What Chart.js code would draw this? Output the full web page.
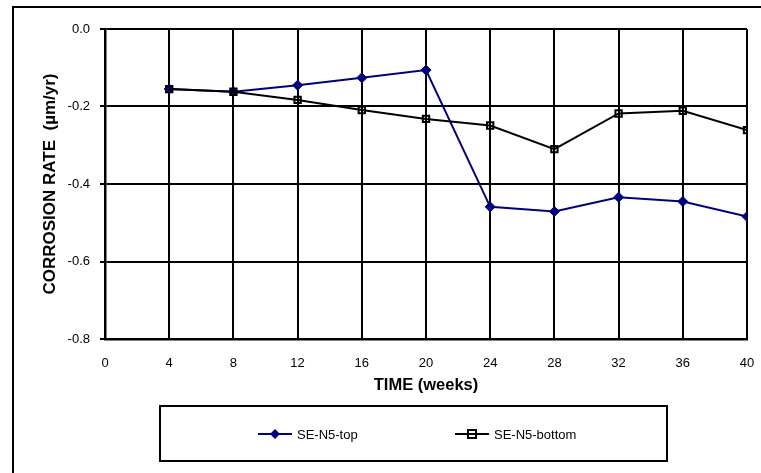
<!DOCTYPE html>
<html>
<head>
<meta charset="utf-8">
<script src="https://cdn.jsdelivr.net/npm/chart.js@4"></script>
<style>
  html, body { margin: 0; padding: 0; background: #fff; }
  #wrap { width: 761px; height: 473px; position: relative; }
</style>
</head>
<body>
<div id="wrap"><canvas id="chart1"></canvas></div>
<script>
const weeks = [4, 8, 12, 16, 20, 24, 28, 32, 36, 40];
const seTop = [-0.155, -0.162, -0.145, -0.126, -0.106, -0.459, -0.471, -0.434, -0.445, -0.484];
const seBottom = [-0.155, -0.162, -0.183, -0.209, -0.232, -0.249, -0.310, -0.218, -0.211, -0.261];
const seriesNames = ['SE-N5-top', 'SE-N5-bottom'];

const FONT = 'Liberation Sans, Arial, sans-serif';

const pts = (vals) => weeks.map((w, i) => ({ x: w, y: vals[i] }));

// outer frame + boxed legend, like the excel original
const framePlugin = {
    id: 'frame',
    beforeDraw(chart) {
        const ctx = chart.ctx;
        ctx.save();
        ctx.fillStyle = '#fff';
        ctx.fillRect(0, 0, chart.width, chart.height);
        ctx.strokeStyle = '#000';
        ctx.lineWidth = 2;
        ctx.strokeRect(13, 7, chart.width + 20, chart.height + 20);
        ctx.restore();
    },
    afterDraw(chart) {
        const ctx = chart.ctx;
        ctx.save();
        ctx.strokeStyle = '#000';
        ctx.lineWidth = 2;
        ctx.strokeRect(160, 406, 507, 55);
        const slots = [258, 455];
        chart.data.datasets.forEach((ds, i) => {
            const x0 = slots[i], y = 434;
            ctx.strokeStyle = ds.borderColor;
            ctx.lineWidth = 2;
            ctx.beginPath();
            ctx.moveTo(x0, y);
            ctx.lineTo(x0 + 34, y);
            ctx.stroke();
            const mx = x0 + 17;
            ctx.beginPath();
            if (ds.pointStyle === 'rectRot') {
                ctx.fillStyle = ds.pointBackgroundColor;
                ctx.moveTo(mx, y - 5); ctx.lineTo(mx + 5, y); ctx.lineTo(mx, y + 5); ctx.lineTo(mx - 5, y);
                ctx.closePath();
                ctx.fill();
            } else {
                ctx.strokeStyle = ds.pointBorderColor;
                ctx.strokeRect(mx - 4, y - 4, 8, 8);
            }
            ctx.fillStyle = '#000';
            ctx.font = '13px ' + FONT;
            ctx.textBaseline = 'middle';
            ctx.textAlign = 'left';
            ctx.fillText(ds.label, x0 + 39, y + 1);
        });
        ctx.restore();
    }
};

const config1 = {
    type: 'line',
    data: {
        datasets: [
            {
                label: seriesNames[0],
                data: pts(seTop),
                borderColor: '#000080',
                borderWidth: 2,
                pointStyle: 'rectRot',
                pointRadius: 5,
                pointBackgroundColor: '#000080',
                pointBorderColor: '#000080',
                pointBorderWidth: 1,
                order: 1
            },
            {
                label: seriesNames[1],
                data: pts(seBottom),
                borderColor: '#000',
                borderWidth: 2,
                pointStyle: 'rect',
                pointRadius: 4.5,
                pointBackgroundColor: 'rgba(0,0,0,0)',
                pointBorderColor: '#000',
                pointBorderWidth: 2,
                order: 0
            }
        ]
    },
    options: {
        responsive: false,
        animation: false,
        events: [],
        layout: {
            padding: { left: 0, top: 29, right: 14, bottom: 0 }
        },
        plugins: {
            legend: { display: false },
            tooltip: { enabled: false }
        },
        scales: {
            x: {
                type: 'linear',
                min: 0,
                max: 40,
                afterFit: (s) => { s.height = 134; s.paddingLeft = 0; s.paddingRight = 0; },
                ticks: {
                    stepSize: 4,
                    color: '#000',
                    padding: 17,
                    maxRotation: 0,
                    font: { family: FONT, size: 13 }
                },
                grid: { color: '#000', lineWidth: 2, drawTicks: false },
                border: { color: '#000', width: 2.5 },
                title: {
                    display: true,
                    text: 'TIME (weeks)',
                    color: '#000',
                    font: { family: FONT, size: 16.5, weight: 'bold' },
                    padding: { top: 0, bottom: 78 }
                }
            },
            y: {
                min: -0.8,
                max: 0,
                afterFit: (s) => { s.width = 105; },
                ticks: {
                    stepSize: 0.2,
                    color: '#000',
                    padding: 10,
                    font: { family: FONT, size: 13 },
                    callback: (v) => v.toFixed(1)
                },
                grid: { color: '#000', lineWidth: 2, tickLength: 5 },
                border: { color: '#000', width: 2.5 },
                title: {
                    display: true,
                    text: 'CORROSION RATE  (µm/yr)',
                    color: '#000',
                    font: { family: FONT, size: 17, weight: 'bold' },
                    padding: { top: 40, bottom: 0 }
                }
            }
        }
    },
    plugins: [framePlugin]
};

const canvas = document.getElementById('chart1');
canvas.width = 761;
canvas.height = 473;
const myChart1 = new Chart(canvas, config1);
</script>
</body>
</html>
